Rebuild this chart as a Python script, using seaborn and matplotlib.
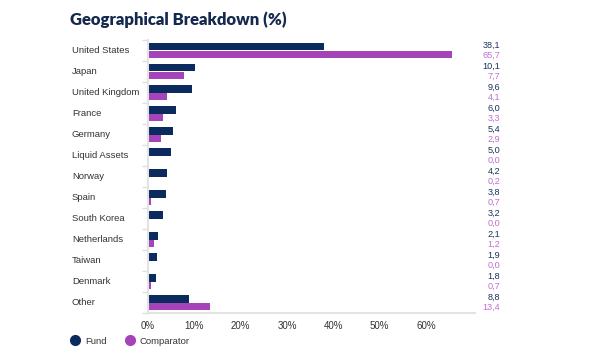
import pandas as pd
import numpy as np
import seaborn as sns
from matplotlib import pyplot as plt
from matplotlib.lines import Line2D
from matplotlib import transforms

countries = ['United States', 'Japan', 'United Kingdom', 'France', 'Germany',
             'Liquid Assets', 'Norway', 'Spain', 'South Korea', 'Netherlands',
             'Taiwan', 'Denmark', 'Other']
fund = [38.1, 10.1, 9.6, 6.0, 5.4, 5.0, 4.2, 3.8, 3.2, 2.1, 1.9, 1.8, 8.8]
comparator = [65.7, 7.7, 4.1, 3.3, 2.9, 0.0, 0.2, 0.7, 0.0, 1.2, 0.0, 0.7, 13.4]
x_ticks = [0, 10, 20, 30, 40, 50, 60]

fund_color = '#0b2a5e'
comp_color = '#a444b8'
fund_text = '#1e3358'
comp_text = '#c06fd2'

df = pd.DataFrame({
    'Country': countries * 2,
    'Value': fund + comparator,
    'Series': ['Fund'] * len(countries) + ['Comparator'] * len(countries),
})

sns.set_style('white')
plt.rcParams['font.family'] = ['Liberation Sans', 'DejaVu Sans']

fig = plt.figure(figsize=(5.95, 3.6), dpi=100)
ax = fig.add_axes([148 / 595, 1 - 313 / 360, (475 - 148) / 595, (313 - 40) / 360])

sns.barplot(data=df, y='Country', x='Value', hue='Series', orient='h',
            palette=[fund_color, comp_color], width=0.67, ax=ax, legend=False,
            saturation=1, linewidth=0)

ax.set_xlim(0, 70.6)
ax.set_ylim(len(countries) - 0.5, -0.5)
ax.set_xlabel('')
ax.set_ylabel('')

ax.set_xticks(x_ticks)
ax.set_xticklabels([f'{t}%' for t in x_ticks], fontsize=7, color='#333333')
ax.tick_params(axis='x', length=0, pad=6)

# category labels, left aligned
ax.set_yticks(range(len(countries)))
ax.set_yticklabels([])
ax.tick_params(axis='y', length=0)
ax.set_yticks(np.arange(len(countries) + 1) - 0.5, minor=True)
ax.tick_params(axis='y', which='minor', length=4, color='#e0e0e0', width=1, left=True)
lbl_trans = transforms.blended_transform_factory(fig.transFigure, ax.transData)
for i, c in enumerate(countries):
    ax.text(72 / 595, i, c, transform=lbl_trans, ha='left', va='center',
            fontsize=6.8, color='#333333')

for s in ['top', 'right']:
    ax.spines[s].set_visible(False)
ax.spines['left'].set_color('#e3e3e3')
ax.spines['bottom'].set_color('#e3e3e3')
ax.spines['left'].set_linewidth(1.5)
ax.spines['bottom'].set_linewidth(1.5)

# value labels on the right
for i in range(len(countries)):
    ax.text(500 / 595, i - 0.25, f'{fund[i]:.1f}'.replace('.', ','), transform=lbl_trans,
            ha='right', va='center', fontsize=6.6, color=fund_text)
    ax.text(500 / 595, i + 0.24, f'{comparator[i]:.1f}'.replace('.', ','), transform=lbl_trans,
            ha='right', va='center', fontsize=6.6, color=comp_text)

fig.text(70 / 595, 1 - 20 / 360, 'Geographical Breakdown (%)', fontsize=12,
         fontweight='heavy', color='#15284f', va='center', ha='left',
         family=['Lato', 'DejaVu Sans'])

handles = [Line2D([], [], marker='o', linestyle='', markersize=7, color=fund_color),
           Line2D([], [], marker='o', linestyle='', markersize=7, color=comp_color)]
fig.legend(handles, ['Fund', 'Comparator'], loc='center left',
           bbox_to_anchor=(57 / 595, 1 - 341 / 360), ncol=2, frameon=False,
           fontsize=6.8, handletextpad=0.1, columnspacing=1.4, labelcolor='#333333')

fig.savefig('out.png', dpi=100)
